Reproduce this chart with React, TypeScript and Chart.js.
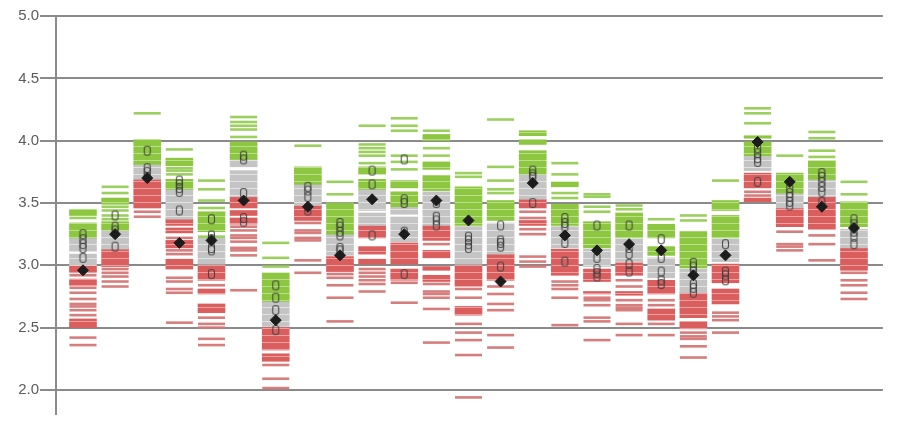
import React, { useEffect, useRef } from 'react';
import { Chart, registerables } from 'chart.js';

Chart.register(...registerables);

// 25 columns (index 0..24)
const yTickValues = [2.0, 2.5, 3.0, 3.5, 4.0, 4.5, 5.0];

const greenDashes: number[][] = [
  [3.38],
  [3.63, 3.58, 3.47, 3.44, 3.40, 3.37],
  [4.22],
  [3.93, 3.78, 3.76, 3.73],
  [3.68, 3.61, 3.52, 3.46, 3.23],
  [4.19, 4.15, 4.12, 4.09, 4.03],
  [3.18, 3.06, 2.99],
  [3.96],
  [3.67, 3.57],
  [4.12, 3.97, 3.94, 3.91, 3.88, 3.82],
  [4.18, 4.12, 4.08, 3.88, 3.83, 3.77],
  [4.08, 3.94, 3.88],
  [3.74, 3.71],
  [4.17, 3.79, 3.68, 3.61, 3.58],
  [],
  [3.82, 3.73, 3.58, 3.54],
  [3.57, 3.55, 3.47, 3.43],
  [3.48, 3.45],
  [3.37],
  [3.40, 3.36],
  [3.68],
  [4.26, 4.22, 4.14],
  [3.88],
  [4.07, 4.02, 3.92, 3.87],
  [3.67, 3.57],
];

const greenBlocks: number[][][] = [
  [[3.40, 3.45], [3.22, 3.34]],
  [[3.49, 3.54], [3.28, 3.35]],
  [[3.81, 4.01]],
  [[3.80, 3.86], [3.61, 3.69]],
  [[3.27, 3.43]],
  [[3.85, 3.99]],
  [[2.71, 2.94]],
  [[3.65, 3.79]],
  [[3.25, 3.50]],
  [[3.73, 3.79], [3.61, 3.69]],
  [[3.62, 3.68], [3.47, 3.59]],
  [[4.00, 4.05], [3.77, 3.83], [3.60, 3.72]],
  [[3.32, 3.63]],
  [[3.36, 3.52]],
  [[4.04, 4.08], [3.97, 4.01], [3.73, 3.92]],
  [[3.63, 3.67], [3.32, 3.49]],
  [[3.14, 3.35]],
  [[3.22, 3.42]],
  [[3.22, 3.33], [3.08, 3.15]],
  [[2.98, 3.27]],
  [[3.44, 3.52], [3.22, 3.40]],
  [[4.02, 4.04], [3.88, 3.99]],
  [[3.58, 3.74]],
  [[3.69, 3.84]],
  [[3.31, 3.51]],
];

const grayBlocks: number[][][] = [
  [[3.11, 3.22], [3.00, 3.09]],
  [[3.13, 3.28]],
  [[3.69, 3.81]],
  [[3.37, 3.61]],
  [[3.01, 3.22]],
  [[3.79, 3.85], [3.55, 3.76]],
  [[2.51, 2.71]],
  [[3.48, 3.65]],
  [[3.08, 3.25]],
  [[3.44, 3.61], [3.32, 3.42]],
  [[3.41, 3.47], [3.19, 3.39]],
  [[3.32, 3.59]],
  [[3.01, 3.31]],
  [[3.09, 3.34]],
  [[3.53, 3.73]],
  [[3.14, 3.31]],
  [[2.99, 3.13]],
  [[3.03, 3.21]],
  [[2.90, 3.06]],
  [[2.78, 2.97]],
  [[3.03, 3.21]],
  [[3.76, 3.88]],
  [[3.46, 3.58]],
  [[3.55, 3.69]],
  [[3.14, 3.29]],
];

const redBlocks: number[][][] = [
  [[2.94, 3.00], [2.84, 2.89], [2.50, 2.57]],
  [[2.99, 3.13]],
  [[3.46, 3.69]],
  [[3.32, 3.37], [3.26, 3.30], [3.14, 3.20], [2.97, 3.05]],
  [[2.88, 3.00], [2.77, 2.81], [2.62, 2.69]],
  [[3.46, 3.55], [3.40, 3.44], [3.33, 3.38]],
  [[2.32, 2.50], [2.23, 2.29]],
  [[3.36, 3.48]],
  [[2.95, 3.07]],
  [[3.22, 3.32], [3.09, 3.15], [3.01, 3.05]],
  [[3.01, 3.18], [2.88, 2.97]],
  [[3.20, 3.32], [3.06, 3.12], [2.96, 2.99], [2.87, 2.92]],
  [[2.83, 3.00], [2.60, 2.67]],
  [[2.88, 3.09]],
  [[3.46, 3.53], [3.32, 3.36]],
  [[2.92, 3.13]],
  [[2.87, 2.97], [2.77, 2.79]],
  [[2.92, 3.02], [2.76, 2.79]],
  [[2.77, 2.88], [2.56, 2.65]],
  [[2.58, 2.78], [2.49, 2.55]],
  [[2.86, 3.01], [2.69, 2.81]],
  [[3.62, 3.74], [3.51, 3.54]],
  [[3.31, 3.46]],
  [[3.29, 3.55]],
  [[2.96, 3.14]],
];

const redDashes: number[][] = [
  [2.92, 2.82, 2.78, 2.73, 2.69, 2.67, 2.64, 2.60, 2.42, 2.36],
  [2.97, 2.94, 2.91, 2.87, 2.83],
  [3.43, 3.39],
  [3.22, 3.12, 3.09, 2.90, 2.87, 2.81, 2.78, 2.54],
  [2.84, 2.58, 2.53, 2.50, 2.41, 2.36],
  [3.31, 3.28, 3.24, 3.22, 3.19, 3.14, 3.12, 3.08, 2.80],
  [2.20, 2.09, 2.015],
  [3.34, 3.28, 3.26, 3.22, 3.20, 3.04, 2.94],
  [2.93, 2.90, 2.84, 2.74, 2.55],
  [2.97, 2.94, 2.91, 2.88, 2.85, 2.79],
  [2.86, 2.70],
  [3.17, 2.85, 2.79, 2.77, 2.74, 2.65, 2.38],
  [2.81, 2.74, 2.53, 2.46, 2.40, 2.28, 1.94],
  [2.83, 2.77, 2.69, 2.64, 2.44, 2.34],
  [3.43, 3.38, 3.29, 3.25, 3.07, 3.03, 2.99],
  [2.87, 2.84, 2.81, 2.74, 2.52],
  [2.74, 2.72, 2.68, 2.58, 2.55, 2.40],
  [2.88, 2.83, 2.72, 2.68, 2.66, 2.64, 2.53, 2.44],
  [2.72, 2.68, 2.53, 2.44],
  [2.46, 2.43, 2.41, 2.35, 2.26],
  [2.62, 2.59, 2.56, 2.46],
  [3.59, 3.56],
  [3.27, 3.17, 3.15, 3.12],
  [3.24, 3.17, 3.04],
  [2.94, 2.88, 2.84, 2.78, 2.73],
];

const circleValues: number[][] = [
  [3.25, 3.21, 3.17, 3.14, 3.06],
  [3.40, 3.31, 3.28, 3.15],
  [3.92, 3.78, 3.75, 3.71],
  [3.68, 3.65, 3.62, 3.59, 3.44],
  [3.37, 3.24, 3.21, 3.14, 3.12, 2.93],
  [3.88, 3.85, 3.58, 3.38, 3.35],
  [2.84, 2.74, 2.64, 2.48],
  [3.63, 3.60, 3.55, 3.44],
  [3.34, 3.31, 3.27, 3.24, 3.14, 3.12],
  [3.76, 3.65, 3.24],
  [3.85, 3.53, 3.50, 3.27, 2.93],
  [3.50, 3.39, 3.36, 3.32],
  [3.23, 3.20, 3.17, 3.14],
  [3.32, 3.20, 3.18, 3.15, 2.99],
  [3.76, 3.73, 3.71, 3.50],
  [3.38, 3.34, 3.31, 3.18, 3.03],
  [3.32, 3.06, 2.97, 2.94, 2.91],
  [3.32, 3.14, 3.09, 3.01, 2.95],
  [3.21, 3.06, 2.95, 2.88, 2.85],
  [3.02, 2.99, 2.95, 2.85, 2.82, 2.78],
  [3.17, 2.95, 2.92, 2.88],
  [3.94, 3.90, 3.86, 3.83, 3.67],
  [3.62, 3.58, 3.55, 3.51, 3.48],
  [3.74, 3.71, 3.67, 3.63, 3.59, 3.51],
  [3.37, 3.33, 3.27, 3.23, 3.17],
];

const diamondValues: number[] = [
  2.96, 3.25, 3.70, 3.18, 3.20, 3.52, 2.56, 3.47, 3.08, 3.53, 3.25, 3.52, 3.36,
  2.87, 3.66, 3.24, 3.12, 3.17, 3.12, 2.92, 3.08, 3.99, 3.67, 3.47, 3.30,
];

const toPoints = (arr: number[][]) =>
  arr.flatMap((vals, i) => vals.map((v) => ({ x: i, y: v })));
const toBars = (arr: number[][][]) =>
  arr.flatMap((bs, i) => bs.map((b) => ({ x: i, y: [b[0], b[1]] })));

function makeCircleImage(): HTMLCanvasElement {
  const c = document.createElement('canvas');
  c.width = 9;
  c.height = 12;
  const ctx = c.getContext('2d')!;
  ctx.strokeStyle = 'rgba(65,65,65,0.9)';
  ctx.lineWidth = 1.1;
  const x = 1.5, y = 1.5, w = 6, h = 9, r = 2.5;
  ctx.beginPath();
  ctx.moveTo(x + r, y);
  ctx.lineTo(x + w - r, y);
  ctx.arcTo(x + w, y, x + w, y + r, r);
  ctx.lineTo(x + w, y + h - r);
  ctx.arcTo(x + w, y + h, x + w - r, y + h, r);
  ctx.lineTo(x + r, y + h);
  ctx.arcTo(x, y + h, x, y + h - r, r);
  ctx.lineTo(x, y + r);
  ctx.arcTo(x, y, x + r, y, r);
  ctx.closePath();
  ctx.stroke();
  return c;
}

// striped fill, imitating stacked dashes inside dense blocks
function makeStripe(base: string, light: string): CanvasPattern | string {
  const c = document.createElement('canvas');
  c.width = 4;
  c.height = 7;
  const ctx = c.getContext('2d');
  if (!ctx) return base;
  ctx.fillStyle = base;
  ctx.fillRect(0, 0, 4, 7);
  ctx.fillStyle = light;
  ctx.fillRect(0, 6, 4, 1);
  const p = ctx.createPattern(c, 'repeat');
  return p || base;
}

export default function App() {
  const ref = useRef<HTMLCanvasElement | null>(null);

  useEffect(() => {
    document.body.style.margin = '0';
    if (!ref.current) return;
    const circleImg = makeCircleImage();
    const barCommon = {
      type: 'bar' as const,
      barThickness: 27,
      grouped: false,
      borderWidth: 0,
      order: 4,
    };
    const dashCommon = {
      type: 'scatter' as const,
      pointStyle: 'line' as const,
      pointRadius: 13.5,
      pointHoverRadius: 13.5,
      borderWidth: 2.6,
      pointBorderWidth: 2.6,
      order: 3,
    };
    const chart = new Chart(ref.current, {
      type: 'scatter',
      data: {
        datasets: [
          {
            type: 'scatter',
            data: diamondValues.map((v, i) => ({ x: i, y: v })),
            pointStyle: 'rectRot',
            pointRadius: 5.5,
            pointHoverRadius: 5.5,
            backgroundColor: '#1c1c1c',
            borderColor: '#1c1c1c',
            borderWidth: 1,
            order: 0,
          } as any,
          {
            type: 'scatter',
            data: toPoints(circleValues),
            pointStyle: circleImg,
            order: 1,
          } as any,
          {
            ...dashCommon,
            data: toPoints(greenDashes),
            borderColor: 'rgba(150,204,85,0.95)',
            backgroundColor: 'rgba(150,204,85,0.95)',
          } as any,
          {
            ...dashCommon,
            data: toPoints(redDashes),
            borderColor: 'rgba(212,118,118,0.95)',
            backgroundColor: 'rgba(212,118,118,0.95)',
          } as any,
          {
            ...barCommon,
            data: toBars(greenBlocks),
            backgroundColor: makeStripe('rgb(141,198,64)', 'rgb(186,222,138)'),
          } as any,
          {
            ...barCommon,
            data: toBars(grayBlocks),
            backgroundColor: makeStripe('rgb(196,196,196)', 'rgb(226,226,226)'),
          } as any,
          {
            ...barCommon,
            data: toBars(redBlocks),
            backgroundColor: makeStripe('rgb(219,94,94)', 'rgb(234,160,160)'),
          } as any,
        ],
      },
      options: {
        animation: false,
        responsive: false,
        events: [],
        layout: { padding: { top: 15, right: 0, bottom: 0, left: 0 } },
        plugins: {
          legend: { display: false },
          tooltip: { enabled: false },
        },
        scales: {
          x: {
            type: 'linear',
            min: -0.84,
            max: 24.9,
            offset: false,
            grid: { offset: false },
            display: false,
          },
          y: {
            type: 'linear',
            min: 2 - 25 / 130,
            max: 5.0,
            afterBuildTicks: (scale: any) => {
              scale.ticks = yTickValues.map((v) => ({ value: v }));
            },
            afterFit: (scale: any) => {
              scale.width = 56;
            },
            grid: {
              color: '#8a8a8a',
              lineWidth: 2,
              tickLength: 16,
              drawTicks: true,
            },
            border: { display: true, color: '#8a8a8a', width: 2 },
            ticks: {
              padding: 1,
              color: '#5c5c5c',
              font: { family: 'Liberation Sans', size: 15 },
              callback: (v: any) => Number(v).toFixed(1),
            },
          },
        },
      } as any,
    });
    return () => chart.destroy();
  }, []);

  return (
    <div style={{ width: 899, height: 430 }}>
      <canvas ref={ref} width={899} height={430} style={{ display: 'block' }} />
    </div>
  );
}
